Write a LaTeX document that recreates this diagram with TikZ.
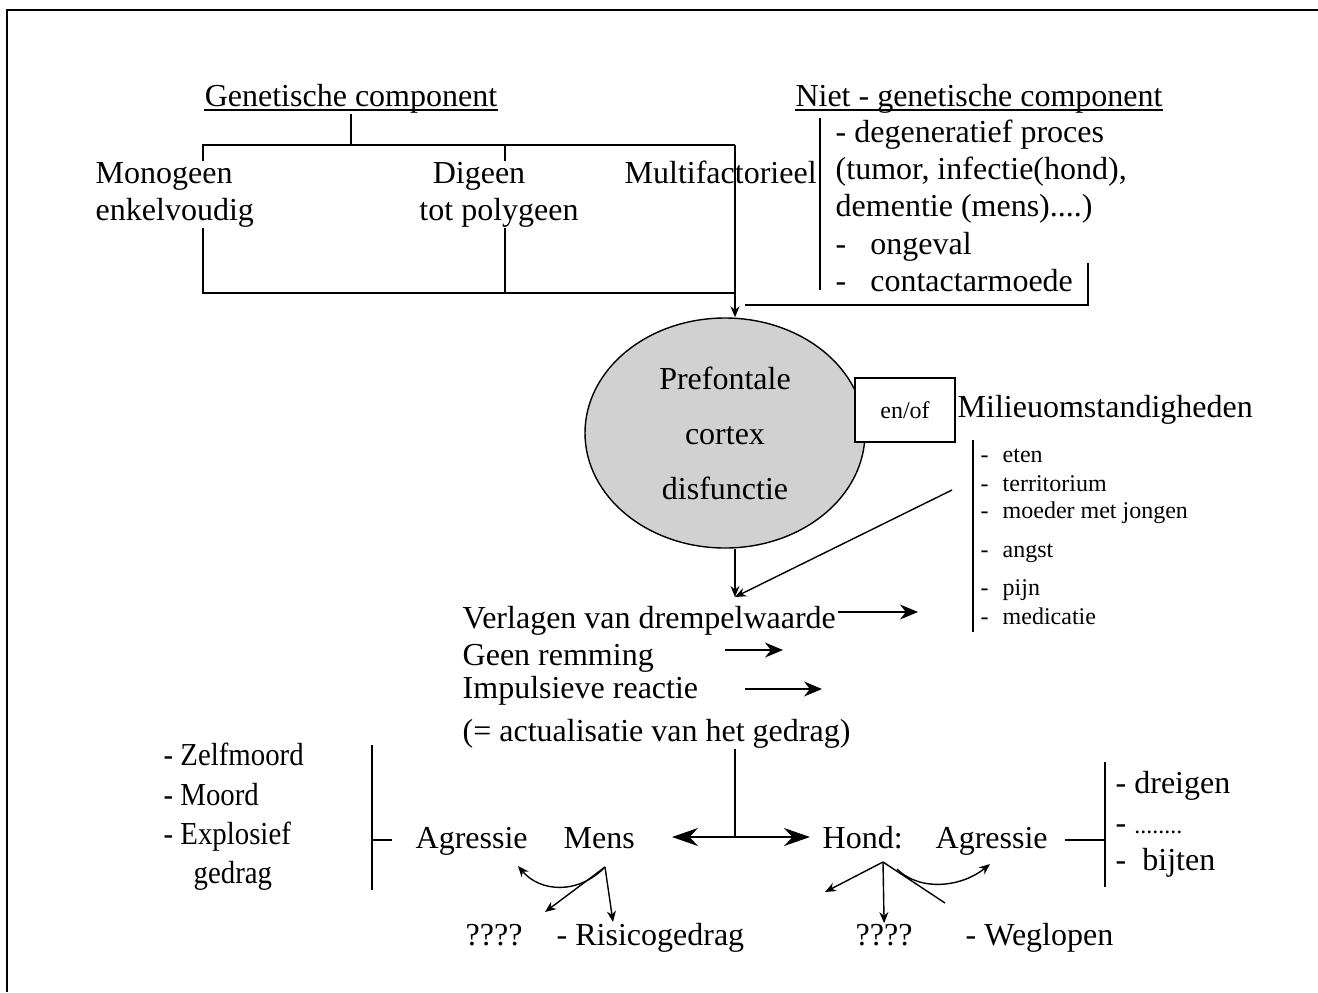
\documentclass[tikz,border=0pt]{standalone}
\usepackage{fontspec}
\setmainfont{Liberation Serif}
\usetikzlibrary{arrows.meta,shapes.geometric}
\tikzset{
    txt/.style={font=\fontsize{16}{19}\selectfont, inner sep=0pt},
    sml/.style={font=\fontsize{12}{14}\selectfont, inner sep=0pt},
    big arrow/.style={-{Stealth[length=9pt,width=7.5pt]}},
    thin arrow/.style={-{Stealth[length=5.5pt,width=4.5pt]}},
    dbl arrow/.style={{Stealth[length=13pt,width=9pt]}-{Stealth[length=13pt,width=9pt]}},
}
\begin{document}
\begin{tikzpicture}[x=0.5pt, y=-0.5pt, line width=0.7pt]
    \useasboundingbox (0,0) rectangle (1318,992);
    \draw (7,992) -- (7,10) -- (1318,10);
    % genetic part
    \node[txt, anchor=base] (gen) at (351,106) {Genetische component};
    \draw ([yshift=-2pt]gen.base west) -- ([yshift=-2pt]gen.base east);
    \node[txt, anchor=base west] (mono1) at (95,183) {Monogeen};
    \node[txt, anchor=base west] (mono2) at (95,220) {enkelvoudig};
    \node[txt, anchor=base] (dig1) at (479,183) {Digeen};
    \node[txt, anchor=base] (dig2) at (499,220) {tot polygeen};
    \node[txt, anchor=base west] (multi) at (624,183) {Multifactorieel};
    \coordinate (g1) at (203,145);
    \coordinate (g2) at (505,145);
    \coordinate (g3) at (735,145);
    \coordinate (h1) at (203,293);
    \coordinate (h2) at (505,293);
    \coordinate (h3) at (735,293);
    \draw (gen.south) -- (gen.south |- g1);
    \draw (g1 |- mono1.north) -- (g1) -- (g3);
    \draw (g2) -- (g2 |- dig1.north);
    \draw (mono2.south -| h1) -- (h1) -- (h3);
    \draw (dig2.south -| h2) -- (h2);
    % non genetic part
    \node[txt, anchor=base] (niet) at (979,106) {Niet - genetische component};
    \draw ([yshift=-2pt]niet.base west) -- ([yshift=-2pt]niet.base east);
    \draw (820,118) -- (820,290);
    \foreach \y/\t [count=\i] in {142/- degeneratief proces, 179/{(tumor, infectie(hond),}, 216/{dementie (mens)....)}, 254/-\hspace{12pt}ongeval, 291/-\hspace{12pt}contactarmoede}
        \node[txt, anchor=base west] (n\i) at (835,\y) {\t};
    \coordinate (c1) at (1088,263);
    \coordinate (c2) at (1088,305);
    \coordinate (c3) at (745,305);
    \draw (c1) -- (c2) -- (c3);
    % cortex
    \node[ellipse, draw, fill=black!18, minimum width=140pt, minimum height=115pt, inner sep=0pt,
          align=center, font=\fontsize{16}{27.5}\selectfont] (ell) at (725,433) {Prefontale\\cortex\\disfunctie};
    \draw[thin arrow] (g3) -- (g3 |- ell.north);
    \node[draw, fill=white, sml, minimum width=50pt, minimum height=32pt] (enof) at (905,410) {en/of};
    \node[txt, anchor=base west] (mil) at (957,417) {Milieuomstandigheden};
    \draw (973,440) -- (973,632);
    \foreach \y/\t [count=\i] in {462/eten, 491/territorium, 518/moeder met jongen, 557/angst, 595/pijn, 624/medicatie}
        \node[sml, anchor=base west] (m\i) at (980,\y) {-\hspace{7pt}\t};
    \coordinate (tp) at (735,597);
    \coordinate (dg) at (952,490);
    \draw[thin arrow] (ell.south -| tp) -- (tp);
    \draw[thin arrow] (dg) -- (tp);
    % threshold
    \node[txt, anchor=base west] (verl) at (462,628) {Verlagen van drempelwaarde};
    \node[txt, anchor=base west] (geen) at (462,665) {Geen remming};
    \node[txt, anchor=base west] (imp) at (462,698) {Impulsieve reactie};
    \node[txt, anchor=base west] (act) at (462,741) {(= actualisatie van het gedrag)};
    \coordinate (a1) at (838,612);
    \coordinate (a2) at (918,612);
    \coordinate (b1) at (725,650);
    \coordinate (b2) at (783,650);
    \coordinate (d1) at (745,689);
    \coordinate (d2) at (822,689);
    \draw[big arrow] (a1) -- (a2);
    \draw[big arrow] (b1) -- (b2);
    \draw[big arrow] (d1) -- (d2);
    % aggression
    \coordinate (j) at (735,837);
    \coordinate (jl) at (672,837);
    \coordinate (jr) at (810,837);
    \draw (j |- act.south) -- (j);
    \draw[dbl arrow] (jl) -- (jr);
    \node[txt, anchor=base west] (agl) at (415,848) {Agressie};
    \node[txt, anchor=base west] (mens) at (563,848) {Mens};
    \node[txt, anchor=base west] (hond) at (822,848) {Hond:};
    \node[txt, anchor=base west] (agr) at (935,848) {Agressie};
    \foreach \y/\t [count=\i] in {765/- Zelfmoord, 805/- Moord, 844/- Explosief}
        \node[txt, anchor=base west] (l\i) at (163,\y) {\scalebox{0.9}[1]{\t}};
    \node[txt, anchor=base west] (l4) at (193,883) {\scalebox{0.9}[1]{gedrag}};
    \draw (372,745) -- (372,890);
    \draw (372,840) -- (392,840);
    \draw (1105,762) -- (1105,887);
    \draw (1065,840) -- (1105,840);
    \node[txt, anchor=base west] (r1) at (1115,793) {- dreigen};
    \node[txt, anchor=base west] (r2) at (1115,833) {- {\fontsize{12}{14}\selectfont ........}};
    \node[txt, anchor=base west] (r3) at (1115,870) {-\hspace{8pt}bijten};
    \node[txt, anchor=base west] (q1) at (465,945) {????};
    \node[txt, anchor=base west] (risk) at (556,945) {- Risicogedrag};
    \node[txt, anchor=base west] (q2) at (855,945) {????};
    \node[txt, anchor=base west] (weg) at (965,945) {- Weglopen};
    % branches
    \coordinate (mo) at (605,867);
    \coordinate (mt1) at (518,866);
    \coordinate (mt2) at (545,912);
    \coordinate (mt3) at (613,922);
    \draw[thin arrow] (mo) .. controls (578,895) and (540,892) .. (mt1);
    \draw[thin arrow] (mo) -- (mt2);
    \draw[thin arrow] (mo) -- (mt3);
    \coordinate (ho) at (883,862);
    \coordinate (ht1) at (825,892);
    \coordinate (ht2) at (945,903);
    \coordinate (hc) at (897,869);
    \coordinate (ht3) at (990,864);
    \draw[thin arrow] (ho) -- (ht1);
    \draw[thin arrow] (ho) -- (q2.north);
    \draw (ho) -- (ht2);
    \draw[thin arrow] (hc) .. controls (920,892) and (962,887) .. (ht3);
\end{tikzpicture}
\end{document}
